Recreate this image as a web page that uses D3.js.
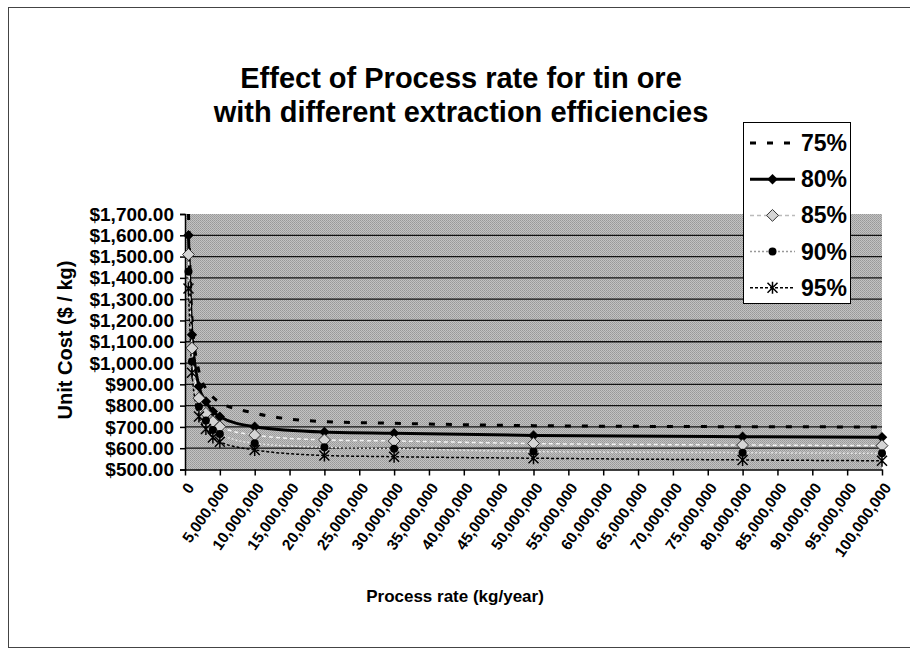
<!DOCTYPE html>
<html>
<head>
<meta charset="utf-8">
<script src="https://cdn.jsdelivr.net/npm/d3@7"></script>
<style type="text/css">
	body{ margin:0; background:#fff; }
	svg text{ font-family:"Liberation Sans", Arial, sans-serif; font-weight:bold; fill:#000; }
</style>
</head>
<body>
<div id="chart"></div>
<script type="text/javascript">
	// process rate (kg/year)
	var rates = [500000, 1000000, 2000000, 3000000, 4000000, 5000000, 10000000, 20000000, 30000000, 50000000, 80000000, 100000000];
	// unit cost ($/kg) per extraction efficiency
	var cost75 = [1700, 1210, 960, 880, 840, 815, 765, 725, 717, 706, 701, 700];
	var cost80 = [1600, 1133, 890, 819, 772, 748, 701, 676, 670, 660, 654, 652];
	var cost85 = [1510, 1070, 835, 764, 725, 701, 662, 639, 634, 622, 615, 612];
	var cost90 = [1430, 1007, 795, 730, 686, 667, 623, 604, 598, 584, 579, 576];
	var cost95 = [1350, 954, 749, 690, 650, 630, 592, 566, 560, 553, 545, 541];
	var seriesNames = ["75%", "80%", "85%", "90%", "95%"];
	var yTicks = [500, 600, 700, 800, 900, 1000, 1100, 1200, 1300, 1400, 1500, 1600, 1700];
	var xTicks = d3.range(0, 100000001, 5000000);

	var W = 910, H = 664;
	var svg = d3.select('#chart').append('svg').attr('width', W).attr('height', H);

	// dithered grey of the plot area
	var pat = svg.append('defs').append('pattern')
		.attr('id', 'dither').attr('width', 2).attr('height', 2)
		.attr('patternUnits', 'userSpaceOnUse');
	pat.append('rect').attr('width', 2).attr('height', 2).attr('fill', '#c2c2c2');
	pat.append('rect').attr('width', 1).attr('height', 1).attr('fill', '#989898');
	pat.append('rect').attr('x', 1).attr('y', 1).attr('width', 1).attr('height', 1).attr('fill', '#a2a2a2');

	// chart border
	svg.append('rect').attr('x', 8.5).attr('y', 7.5).attr('width', 940).attr('height', 640)
		.attr('fill', 'none').attr('stroke', '#444').attr('stroke-width', 1);

	var x = d3.scaleLinear().domain([0, 100000000]).range([185, 882]);
	var y = d3.scaleLinear().domain([500, 1700]).range([469.5, 214]);

	svg.append('rect')
		.attr('x', x(0)).attr('y', y(1700))
		.attr('width', x(100000000) - x(0)).attr('height', y(500) - y(1700))
		.attr('fill', 'url(#dither)');

	// gridlines
	svg.append('g').selectAll('line')
		.data(yTicks.filter(function(d){ return d > 500 && d < 1700; }))
		.enter().append('line')
		.attr('x1', x(0)).attr('x2', x(100000000))
		.attr('y1', function(d){ return y(d); }).attr('y2', function(d){ return y(d); })
		.attr('stroke', '#111').attr('stroke-width', 1.3);

	// axes
	var yAxis = svg.append('g').attr('transform', 'translate(' + x(0) + ',0)')
		.call(d3.axisLeft(y).tickValues(yTicks).tickSize(5).tickPadding(6).tickFormat(d3.format('$,.2f')));
	yAxis.selectAll('text').style('font-size', '19px');
	var xAxis = svg.append('g').attr('transform', 'translate(0,' + y(500) + ')')
		.call(d3.axisBottom(x).tickValues(xTicks).tickSize(6).tickSizeOuter(0).tickFormat(d3.format(',')));
	xAxis.selectAll('text')
		.style('font-size', '15.5px')
		.attr('text-anchor', 'end')
		.attr('dy', '0.35em')
		.attr('transform', 'translate(5,15) rotate(-55)')
		.attr('y', 0).attr('x', 0);
	svg.selectAll('.domain').attr('stroke', '#000').attr('stroke-width', 1.5);
	svg.selectAll('.tick line').attr('stroke', '#000').attr('stroke-width', 1.5);

	// series
	var styles = [
		{ data: cost75, color: '#000', width: 3, dash: '6,11', marker: 'none' },
		{ data: cost80, color: '#000', width: 3, dash: null, marker: 'diamond' },
		{ data: cost85, color: '#f2f2f2', width: 1.5, dash: '4,3', marker: 'hollow' },
		{ data: cost90, color: '#e0e0e0', width: 1.5, dash: '2,2', marker: 'circle' },
		{ data: cost95, color: '#000', width: 1.5, dash: '3,2', marker: 'star' }
	];

	var line = d3.line()
		.x(function(d){ return x(d[0]); })
		.y(function(d){ return y(d[1]); })
		.curve(d3.curveMonotoneX);

	function drawMarker(g, type, cx, cy){
		if(type == 'diamond'){
			g.append('path').attr('d', d3.symbol().type(d3.symbolDiamond2).size(70)())
				.attr('transform', 'translate(' + cx + ',' + cy + ')').attr('fill', '#000');
		}else if(type == 'hollow'){
			g.append('path').attr('d', d3.symbol().type(d3.symbolDiamond2).size(90)())
				.attr('transform', 'translate(' + cx + ',' + cy + ')')
				.attr('fill', '#d4d4d4').attr('stroke', '#333').attr('stroke-width', 1);
		}else if(type == 'circle'){
			g.append('circle').attr('cx', cx).attr('cy', cy).attr('r', 4).attr('fill', '#000');
		}else if(type == 'star'){
			g.append('path')
				.attr('d', 'M' + (cx - 5) + ',' + (cy - 5) + 'L' + (cx + 5) + ',' + (cy + 5) +
					'M' + (cx - 5) + ',' + (cy + 5) + 'L' + (cx + 5) + ',' + (cy - 5) +
					'M' + cx + ',' + (cy - 6) + 'L' + cx + ',' + (cy + 6))
				.attr('stroke', '#000').attr('stroke-width', 1.5).attr('fill', 'none');
		}
	}

	var plot = svg.append('g');
	styles.forEach(function(s){
		var pts = rates.map(function(r, i){ return [r, s.data[i]]; });
		plot.append('path').datum(pts)
			.attr('d', line)
			.attr('fill', 'none')
			.attr('stroke', s.color)
			.attr('stroke-width', s.width)
			.attr('stroke-dasharray', s.dash);
	});
	styles.forEach(function(s){
		rates.forEach(function(r, i){
			drawMarker(plot, s.marker, x(r), y(s.data[i]));
		});
	});

	// title
	svg.append('text').attr('x', 461).attr('y', 88).attr('text-anchor', 'middle')
		.style('font-size', '29px').text('Effect of Process rate for tin ore');
	svg.append('text').attr('x', 461).attr('y', 122).attr('text-anchor', 'middle')
		.style('font-size', '29px').text('with different extraction efficiencies');

	// axis titles
	svg.append('text').attr('transform', 'translate(72,340) rotate(-90)').attr('text-anchor', 'middle')
		.style('font-size', '20px').text('Unit Cost ($ / kg)');
	svg.append('text').attr('x', 455).attr('y', 602).attr('text-anchor', 'middle')
		.style('font-size', '17px').text('Process rate (kg/year)');

	// legend
	var lg = svg.append('g');
	lg.append('rect').attr('x', 743.5).attr('y', 122.5).attr('width', 107).attr('height', 181)
		.attr('fill', '#fff').attr('stroke', '#000').attr('stroke-width', 1);
	var legendLine = ['#000', '#000', '#bbb', '#999', '#000'];
	styles.forEach(function(s, i){
		var cy = 143 + i * 36.2;
		lg.append('line').attr('x1', 750).attr('x2', 795).attr('y1', cy).attr('y2', cy)
			.attr('stroke', legendLine[i]).attr('stroke-width', s.width)
			.attr('stroke-dasharray', s.dash);
		drawMarker(lg, s.marker, 772.5, cy);
		lg.append('text').attr('x', 801).attr('y', cy + 8).style('font-size', '23px').text(seriesNames[i]);
	});
</script>
</body>
</html>
